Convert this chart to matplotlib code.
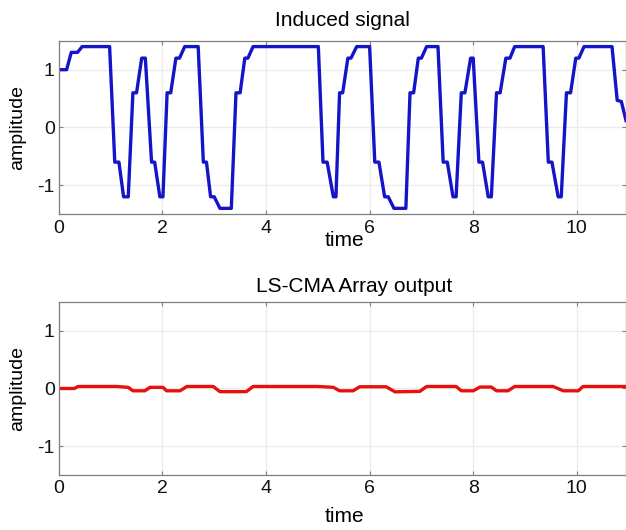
import numpy as np
import matplotlib.pyplot as plt

plt.rcParams['font.family'] = ['Liberation Sans', 'DejaVu Sans']
plt.rcParams['axes.unicode_minus'] = False

# induced signal, breakpoints
induced_t = [0.0, 0.15, 0.24, 0.36, 0.45, 0.98, 1.08, 1.16, 1.25, 1.34, 1.43, 1.50, 1.60, 1.67,
             1.79, 1.85, 1.95, 2.01, 2.09, 2.16, 2.26, 2.33, 2.43, 2.69, 2.79, 2.85, 2.93, 3.00,
             3.11, 3.33, 3.42, 3.50, 3.59, 3.65, 3.75, 5.01, 5.10, 5.18, 5.30, 5.35, 5.42, 5.48,
             5.58, 5.64, 5.75, 6.00, 6.10, 6.18, 6.29, 6.36, 6.47, 6.70, 6.78, 6.85, 6.94, 7.00,
             7.10, 7.32, 7.42, 7.50, 7.61, 7.67, 7.77, 7.84, 7.95, 8.00, 8.11, 8.18, 8.29, 8.35,
             8.45, 8.52, 8.63, 8.71, 8.80, 9.35, 9.45, 9.52, 9.64, 9.70, 9.80, 9.88, 9.98, 10.04,
             10.14, 10.68, 10.78, 10.86, 10.95]
induced_y = [1.0, 1.0, 1.3, 1.3, 1.4, 1.4, -0.6, -0.6, -1.2, -1.2, 0.6, 0.6, 1.2, 1.2,
             -0.6, -0.6, -1.2, -1.2, 0.6, 0.6, 1.2, 1.2, 1.4, 1.4, -0.6, -0.6, -1.2, -1.2,
             -1.4, -1.4, 0.6, 0.6, 1.2, 1.2, 1.4, 1.4, -0.6, -0.6, -1.2, -1.2, 0.6, 0.6,
             1.2, 1.2, 1.4, 1.4, -0.6, -0.6, -1.2, -1.2, -1.4, -1.4, 0.6, 0.6, 1.2, 1.2,
             1.4, 1.4, -0.6, -0.6, -1.2, -1.2, 0.6, 0.6, 1.2, 1.2, -0.6, -0.6, -1.2, -1.2,
             0.6, 0.6, 1.2, 1.2, 1.4, 1.4, -0.6, -0.6, -1.2, -1.2, 0.6, 0.6, 1.2, 1.2,
             1.4, 1.4, 0.47, 0.45, 0.12]

# LS-CMA array output
output_t = [0.0, 0.30, 0.37, 1.11, 1.34, 1.43, 1.66, 1.76, 2.01, 2.08, 2.34, 2.47, 2.98, 3.11,
            3.62, 3.75, 5.0, 5.30, 5.42, 5.68, 5.81, 6.32, 6.49, 6.97, 7.10, 7.67, 7.77, 8.0,
            8.13, 8.35, 8.45, 8.67, 8.80, 9.54, 9.74, 10.03, 10.12, 10.95]
output_y = [0.0, 0.0, 0.035, 0.035, 0.02, -0.04, -0.04, 0.02, 0.02, -0.04, -0.04, 0.035, 0.035, -0.055,
            -0.055, 0.035, 0.035, 0.02, -0.04, -0.04, 0.03, 0.03, -0.058, -0.05, 0.035, 0.035, -0.04, -0.04,
            0.025, 0.025, -0.04, -0.04, 0.035, 0.035, -0.04, -0.04, 0.035, 0.035]

xticks = [0, 2, 4, 6, 8, 10]
yticks = [-1, 0, 1]


def styleAxes(ax, title, title_x, title_pad, xlabel_y):
    ax.set_xlim(0, 10.95)
    ax.set_ylim(-1.5, 1.5)
    ax.set_xticks(xticks)
    ax.set_yticks(yticks)
    ax.grid(True, color='#ececec', linewidth=1.0)
    ax.set_axisbelow(True)
    for s in ax.spines.values():
        s.set_color('#7f7f7f')
        s.set_linewidth(0.9)
    ax.tick_params(direction='in', length=3, color='#7f7f7f', labelsize=14,
                   top=True, right=True, labelcolor='#111111')
    ax.tick_params(axis='y', pad=3)
    ax.tick_params(axis='x', pad=4)
    ax.set_title(title, fontsize=15, x=title_x, pad=title_pad)
    ax.set_xlabel('time', fontsize=15, va='center')
    ax.xaxis.set_label_coords(0.504, xlabel_y)
    ax.set_ylabel('amplitude', fontsize=14, va='center')
    ax.yaxis.set_label_coords(-0.072, 0.5)


fig = plt.figure(figsize=(6.26, 5.30), dpi=100)
ax1 = fig.add_axes([0.094, 0.596, 0.906, 0.327])
ax2 = fig.add_axes([0.094, 0.104, 0.906, 0.326])

ax1.plot(induced_t, induced_y, color='#1414c8', linewidth=2.4, solid_joinstyle='round')
styleAxes(ax1, 'Induced signal', 0.5, 11, -0.15)

ax2.plot(output_t, output_y, color='#e8100c', linewidth=2.4, solid_joinstyle='round')
styleAxes(ax2, 'LS-CMA Array output', 0.52, 7, -0.243)

fig.savefig('out.png', dpi=100)
